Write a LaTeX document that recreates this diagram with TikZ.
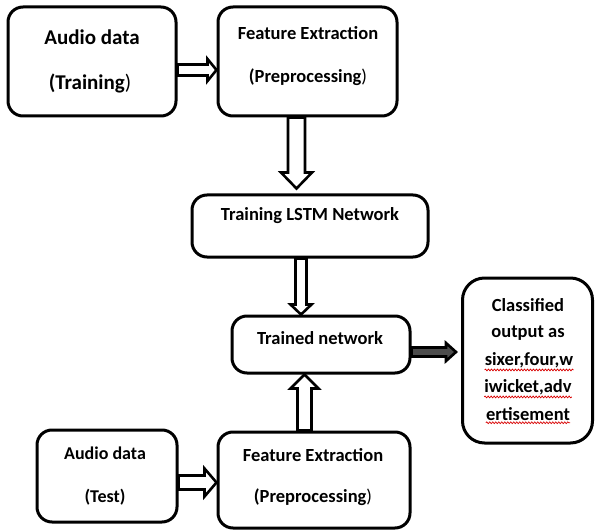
\documentclass[tikz,border=0pt]{standalone}
\usepackage{fontspec}
\setmainfont{Carlito}
\usetikzlibrary{calc,decorations.pathmorphing}

% Block arrows between two nodes.
% #1 from, #2 to, #3 offset of the arrow axis from the start anchor,
% #4 shaft half width, #5 head half width, #6 head length, #7 gap before target
\newcommand\blockright[7]{%
  let \p1=(#1.east), \p2=(#2.west) in
  (\x1, \y1-#3+#4) -- (\x2-#7-#6, \y1-#3+#4) -- (\x2-#7-#6, \y1-#3+#5) --
  (\x2-#7, \y1-#3) -- (\x2-#7-#6, \y1-#3-#5) -- (\x2-#7-#6, \y1-#3-#4) --
  (\x1, \y1-#3-#4) -- cycle}
\newcommand\blockdown[7]{%
  let \p1=(#1.south), \p2=(#2.north) in
  (\x1+#3-#4, \y1) -- (\x1+#3-#4, \y2+#7+#6) -- (\x1+#3-#5, \y2+#7+#6) --
  (\x1+#3, \y2+#7) -- (\x1+#3+#5, \y2+#7+#6) -- (\x1+#3+#4, \y2+#7+#6) --
  (\x1+#3+#4, \y1) -- cycle}
\newcommand\blockup[7]{%
  let \p1=(#1.north), \p2=(#2.south) in
  (\x1+#3-#4, \y1) -- (\x1+#3-#4, \y2-#7-#6) -- (\x1+#3-#5, \y2-#7-#6) --
  (\x1+#3, \y2-#7) -- (\x1+#3+#5, \y2-#7-#6) -- (\x1+#3+#4, \y2-#7-#6) --
  (\x1+#3+#4, \y1) -- cycle}

\begin{document}
\begin{tikzpicture}[x=1pt,y=-1pt,
  box/.style={draw=black, line width=3pt, rounded corners=15pt, fill=white,
              minimum width=#1, inner sep=0pt},
  lbl/.style={inner sep=0pt, font=\bfseries\fontsize{#1}{#1}\selectfont, text=black},
  lbl/.default=18.5pt,
  barrow/.style={draw=black, line width=2.6pt, fill=white, line join=miter},
  spell/.style={draw=red!85!black, line width=0.7pt,
                decorate, decoration={snake, amplitude=0.9pt, segment length=3pt}}]
\useasboundingbox (0,0) rectangle (595,532);
\fill[white] (0,0) rectangle (595,532);

% boxes
\node[box=168pt, minimum height=109pt] (audiotr) at (92,61.5) {};
\node[box=179pt, minimum height=109pt] (featr)   at (307.5,61.5) {};
\node[box=236pt, minimum height=62pt]  (lstm)    at (310,226) {};
\node[box=178pt, minimum height=57pt]  (trained) at (321,344.5) {};
\node[box=130pt, minimum height=165pt, rounded corners=22pt] (out) at (527.5,360.5) {};
\node[box=140pt, minimum height=92pt]  (audiote) at (107,476) {};
\node[box=192pt, minimum height=96pt]  (fete)    at (314,480) {};

% texts
\node[lbl=21pt] (t1a) at (92,37) {Audio data};
\node[lbl=21pt] (t1b) at (90,83) {(Training\textmd{)}};
\node[lbl=18.5pt] (t2a) at (308,33) {Feature Extraction};
\node[lbl=18.5pt] (t2b) at (308,77) {(Preprocessing\textmd{)}};
\node[lbl] (t3) at (310,216) {Training LSTM Network};
\node[lbl] (t4) at (320,338) {Trained network};
\node[lbl] (o1) at (528,305) {Classified};
\node[lbl] (o2) at (528,333) {output as};
\node[lbl] (o3) at (529,360) {sixer,four,w};
\node[lbl] (o4) at (528,387) {iwicket,adv};
\node[lbl] (o5) at (528,414) {ertisement};
\node[lbl=18pt] (t5a) at (105,453) {Audio data};
\node[lbl=18pt] (t5b) at (105,497) {(Test)};
\node[lbl=18.5pt] (t6a) at (313,455) {Feature Extraction};
\node[lbl=18.5pt] (t6b) at (313,497) {(Preprocessing\textmd{)}};

% spelling marks under the output words
\draw[spell] ($(o3.south west)+(0,2)$) -- ($(o3.south east)+(0,2)$);
\draw[spell] ($(o4.south west)+(0,2)$) -- ($(o4.south east)+(0,2)$);
\draw[spell] ($(o5.south west)+(0,2)$) -- ($(o5.south east)+(0,2)$);

% connectors
\draw[barrow] \blockright{audiotr}{featr}{8.5pt}{5.5pt}{11pt}{9pt}{0pt};
\draw[barrow] \blockdown{featr}{lstm}{-11pt}{8.5pt}{15.5pt}{16pt}{5pt};
\draw[barrow] \blockdown{lstm}{trained}{-9pt}{5.5pt}{10.5pt}{10pt}{0pt};
\draw[barrow] \blockup{fete}{trained}{-9.5pt}{7pt}{14pt}{14pt}{0pt};
\draw[barrow, fill=black!70] \blockright{trained}{out}{7.5pt}{4.5pt}{9pt}{10pt}{5pt};
\draw[barrow] \blockright{audiote}{fete}{6.5pt}{7pt}{14pt}{12pt}{0pt};
\end{tikzpicture}
\end{document}
